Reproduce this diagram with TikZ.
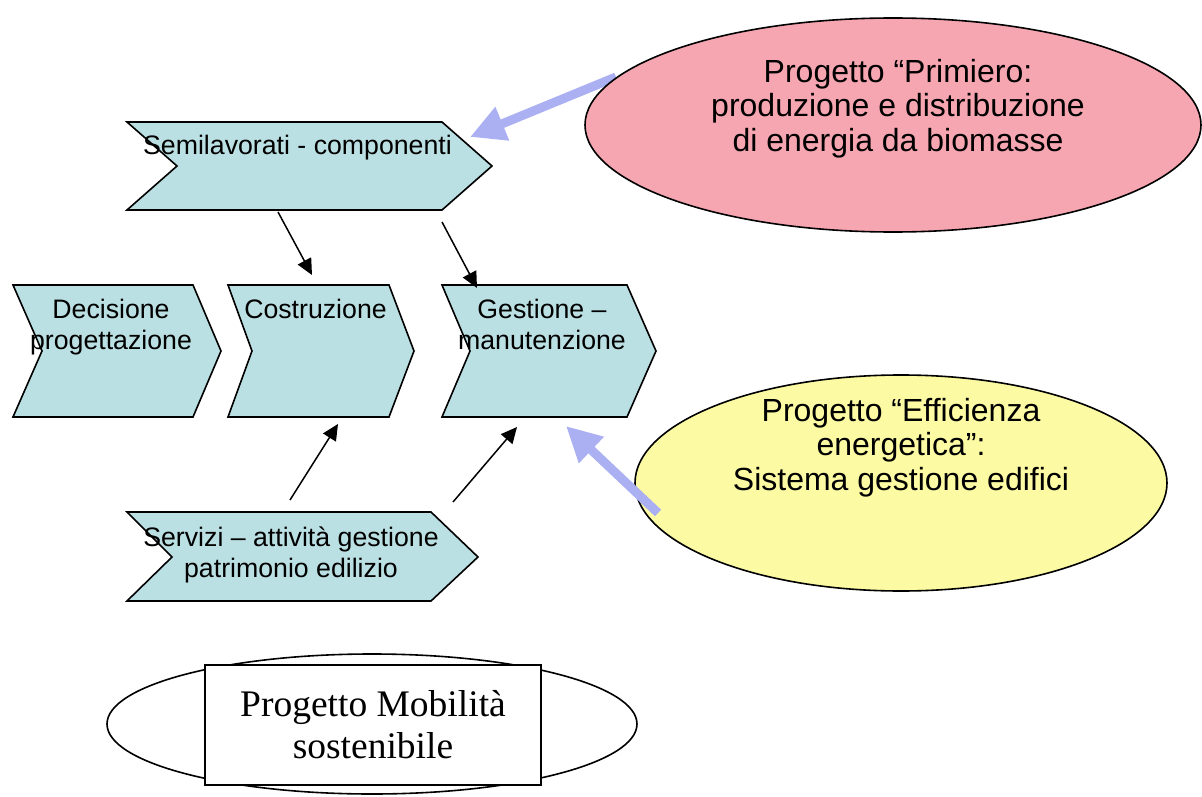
\documentclass[tikz,border=0pt]{standalone}
\usepackage{fontspec}
\setmainfont{Liberation Sans}
\newfontfamily\serifTNR{Liberation Serif}
\usetikzlibrary{arrows.meta,shapes.geometric}
\definecolor{chevfill}{RGB}{187,224,227}
\definecolor{pinkfill}{RGB}{246,166,177}
\definecolor{yellowfill}{RGB}{253,250,164}
\definecolor{bluearrow}{RGB}{170,176,242}
\tikzset{
  chev/.style={draw=black, line width=1.6pt, fill=chevfill, line join=miter},
  chevtext/.style={font=\fontsize{26.7}{31}\selectfont, align=center, anchor=base, inner sep=0pt},
  elltext/.style={font=\fontsize{32}{34.5}\selectfont, align=center, anchor=base, inner sep=0pt},
  blacklink/.style={-{Triangle[length=16pt,width=15pt]}, line width=1.5pt},
  bluelink/.style={-{Triangle[length=35pt,width=34pt]}, line width=9pt, draw=bluearrow, fill=bluearrow},
  ell/.style={ellipse, draw=black, line width=1.6pt, inner sep=0pt},
}
\begin{document}
\begin{tikzpicture}[x=1pt,y=-1pt]
\useasboundingbox (0,0) rectangle (1202,797);

% chevrons
\draw[chev] (127,122) -- (442,122) -- (492,166) -- (442,210) -- (127,210) -- (177,166) -- cycle;
\draw[chev] (13,285) -- (193,285) -- (221,351) -- (193,417) -- (13,417) -- (42,351) -- cycle;
\draw[chev] (228,285) -- (389,285) -- (414,351) -- (389,417) -- (228,417) -- (252,351) -- cycle;
\draw[chev] (442,285) -- (627,285) -- (656,351) -- (627,417) -- (442,417) -- (470,351) -- cycle;
\draw[chev] (127,512) -- (431,512) -- (478,557) -- (431,601) -- (127,601) -- (172,557) -- cycle;

% texts (base anchor = baseline of the last line)
\node[chevtext] (semi) at (297.5,155) {Semilavorati - componenti};
\node[chevtext] (decis) at (111,349) {Decisione\\progettazione};
\node[chevtext] (costr) at (315.5,318) {Costruzione};
\node[chevtext] (gest) at (542,349) {Gestione –\\manutenzione};
\node[chevtext] (serv) at (291,577) {Servizi – attività gestione\\patrimonio edilizio};

% black connectors
\coordinate (a1s) at (278,212); \coordinate (a1e) at (312,275);
\coordinate (a2s) at (442,222); \coordinate (a2e) at (477,288);
\coordinate (a3s) at (290,500); \coordinate (a3e) at (338,424);
\coordinate (a4s) at (453,502); \coordinate (a4e) at (517,427);
\draw[blacklink] (a1s) -- (a1e);
\draw[blacklink] (a2s) -- (a2e);
\draw[blacklink] (a3s) -- (a3e);
\draw[blacklink] (a4s) -- (a4e);

% pink project
\coordinate (b1s) at (616,77); \coordinate (b1e) at (470,137);
\draw[bluelink] (b1s) -- (b1e);
\node[ell, fill=pinkfill, minimum width=616pt, minimum height=214pt] (pink) at (893,125) {};
\node[elltext] (pinktext) at (898,151) {Progetto “Primiero:\\produzione e distribuzione\\di energia da biomasse};

% yellow project
\node[ell, fill=yellowfill, minimum width=532pt, minimum height=216pt] (yellow) at (901,483) {};
\node[elltext] (yellowtext) at (901,490) {Progetto “Efficienza\\energetica”:\\Sistema gestione edifici};
\coordinate (b2s) at (658,513); \coordinate (b2e) at (566,426);
\draw[bluelink] (b2s) -- (b2e);

% mobility project
\node[ell, minimum width=530pt, minimum height=140pt] (mobell) at (372,724) {};
\node[draw=black, line width=1.6pt, fill=white, minimum width=336pt, minimum height=120pt,
      align=center, inner sep=0pt, font=\serifTNR\fontsize{37.5}{42}\selectfont] (mob) at (373,725)
      {Progetto Mobilità\\sostenibile};
\end{tikzpicture}
\end{document}
